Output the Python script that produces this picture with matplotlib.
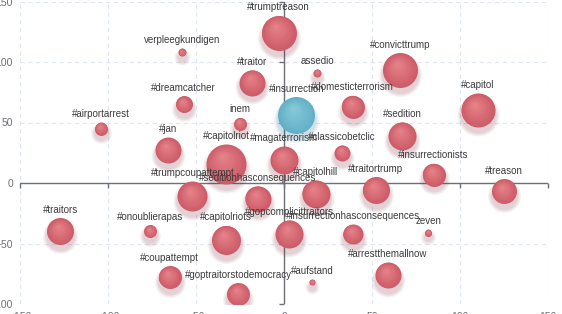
import matplotlib
matplotlib.use("Agg")
import matplotlib.pyplot as plt
from matplotlib.transforms import ScaledTranslation
import numpy as np

# hashtag bubbles: position and bubble diameter (px)
names = ['#trumptreason', 'verpleegkundigen', '#traitor', 'assedio', '#convicttrump',
         '#dreamcatcher', '#domesticterrorism', '#insurrection', '#capitol', '#airportarrest',
         'inem', '#sedition', '#jan', '#capitolriot', '#magaterrorism', '#classicobetclic',
         '#insurrectionists', '#trumpcoupattempt', '#seditionhasconsequences', '#capitolhill',
         '#traitortrump', '#treason', '#traitors', '#onoublierapas', '#capitolriots',
         '#gopcomplicittraitors', '#insurrectionhasconsequences', 'zeven', '#coupattempt',
         '#goptraitorstodemocracy', '#aufstand', '#arrestthemallnow']
xs = [-3, -58, -18, 19, 66, -57, 39, 7, 110, -104,
      -25, 67, -66, -33, 0, 33,
      85, -52, -15, 18,
      52, 125, -127, -76, -33,
      3, 39, 82, -65,
      -26, 16, 59]
ys = [124, 108, 83, 91, 93, 65, 63, 56, 60, 45,
      49, 39, 27, 16, 19, 25,
      7, -11, -13, -9,
      -6, -7, -40, -40, -47,
      -42, -42, -41, -78,
      -92, -82, -76]
sizes = [35, 8, 26, 8, 35, 17, 23, 37, 34, 13,
         13, 28, 26, 40, 28, 16,
         23, 30, 26, 28,
         27, 25, 27, 13, 29,
         28, 20, 7, 23,
         23, 6, 26]
highlight = '#insurrection'

x_ticks = [-150, -100, -50, 0, 50, 100, 150]
y_ticks = [-100, -50, 0, 50, 100, 150]

red_dark = np.array([205, 92, 104]) / 255
red_light = np.array([232, 134, 140]) / 255
blue_dark = np.array([98, 176, 199]) / 255
blue_light = np.array([138, 204, 218]) / 255

fig = plt.figure(figsize=(5.62, 3.14), dpi=100)
ax = fig.add_axes([20 / 562, 10 / 314, 528 / 562, 302.5 / 314])
ax.set_xlim(-150, 150)
ax.set_ylim(-100, 150)

for s in ax.spines.values():
    s.set_visible(False)
ax.set_xticks(x_ticks)
ax.set_yticks(y_ticks)
ax.grid(True, color='#e0e6f1', linestyle=(0, (4, 3)), linewidth=0.8)
ax.set_axisbelow(True)
ax.tick_params(length=0, labelsize=7.5, labelcolor='#6e7079')
ax.tick_params(axis='y', pad=5)
ax.tick_params(axis='x', pad=5.5)
for lab in ax.get_xticklabels() + ax.get_yticklabels():
    lab.set_family('Liberation Sans')

# zero axis lines with ticks
ax.axhline(0, color='#6e7079', linewidth=1, zorder=1)
ax.axvline(0, color='#6e7079', linewidth=1, zorder=1)
ax.plot(x_ticks, [0] * len(x_ticks), linestyle='none', marker=3, markersize=3.6,
        markeredgecolor='#6e7079', markeredgewidth=1, zorder=1, clip_on=False)
ax.plot([0] * len(y_ticks), y_ticks, linestyle='none', marker=0, markersize=3.6,
        markeredgecolor='#6e7079', markeredgewidth=1, zorder=1, clip_on=False)

n_layers = 14
for name, x, y, d in zip(names, xs, ys, sizes):
    is_hl = name == highlight
    dark, light = (blue_dark, blue_light) if is_hl else (red_dark, red_light)
    shadow = (25 / 255, 100 / 255, 150 / 255) if is_hl else (120 / 255, 36 / 255, 50 / 255)
    z = 5 if is_hl else 3
    d_pt = d * 0.72
    # soft shadow, shifted down
    off = ax.transData + ScaledTranslation(0, -3.5 / 72, fig.dpi_scale_trans)
    for j in range(6):
        ax.scatter([x], [y], s=(d_pt + (6 - j) * 1.0) ** 2, color=shadow, alpha=0.035,
                   linewidths=0, transform=off, zorder=z - 0.5)
    # radial gradient from dark rim to light focus (upper left)
    fx, fy = -0.1 * d_pt, 0.2 * d_pt
    for k in range(n_layers):
        t = k / n_layers
        col = dark + (light - dark) * t
        tr = ax.transData + ScaledTranslation(t * fx / 72, t * fy / 72, fig.dpi_scale_trans)
        ax.scatter([x], [y], s=(d_pt * (1 - t)) ** 2, color=col, linewidths=0,
                   transform=tr, zorder=z)
    ax.annotate(name, (x, y), xytext=(0, d_pt / 2 + 2.2), textcoords='offset points',
                ha='center', va='bottom', fontsize=7, color='#3c3c3c',
                family='Liberation Sans', zorder=10, annotation_clip=False)

fig.savefig('out.png', dpi=100)
